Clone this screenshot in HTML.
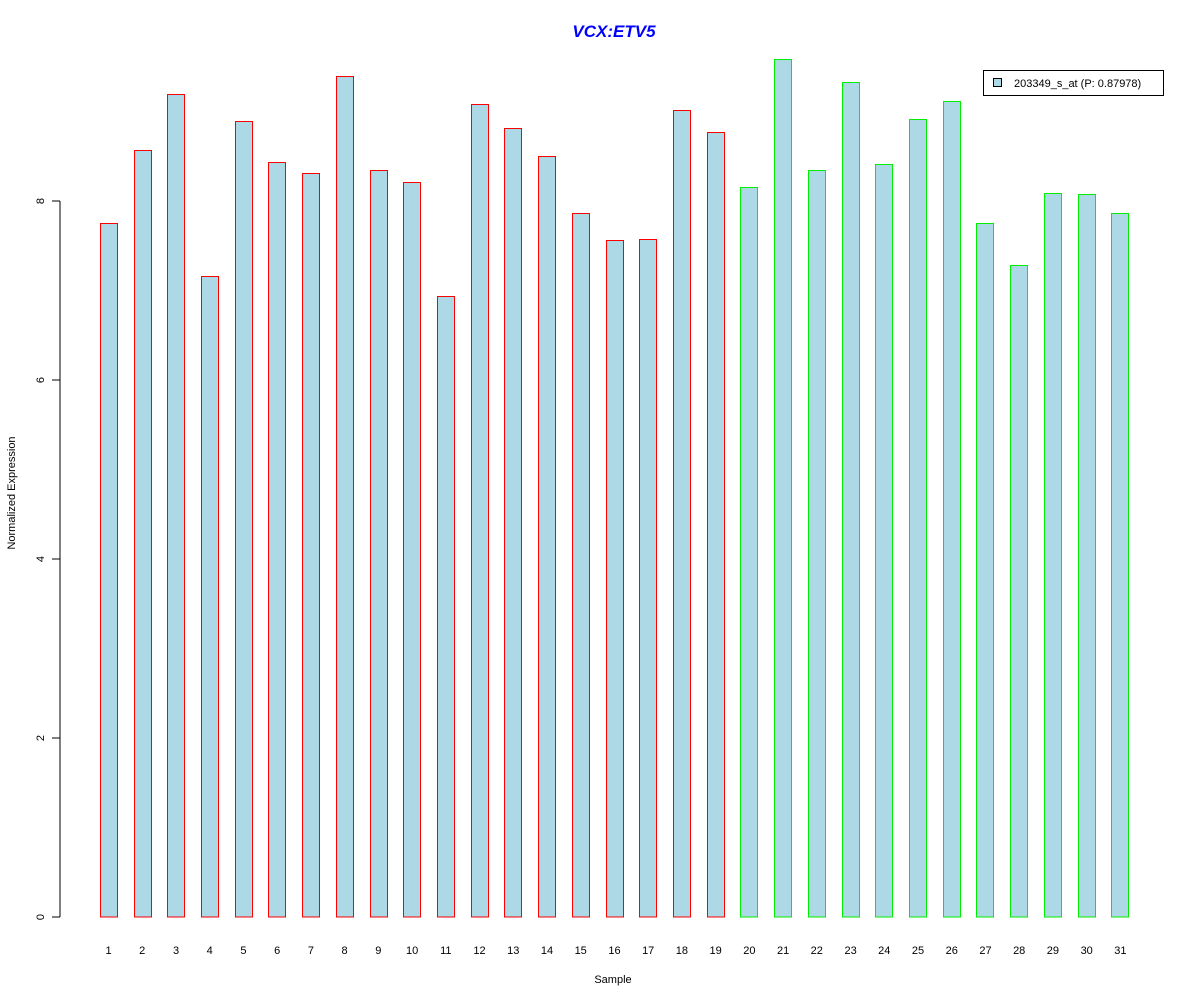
<!DOCTYPE html>
<html><head><style>body{margin:0;background:#fff}</style></head><body>
<svg width="1200" height="1000" xmlns="http://www.w3.org/2000/svg" font-family="Liberation Sans, Arial, sans-serif">
<rect width="1200" height="1000" fill="#fff"/>
<text x="614" y="37" text-anchor="middle" font-size="17" font-weight="bold" font-style="italic" fill="#0000ff">VCX:ETV5</text>
<g stroke="#000" stroke-width="1">
<line x1="60" y1="917" x2="60" y2="201"/>
<line x1="52" y1="917" x2="60" y2="917"/>
<line x1="52" y1="738" x2="60" y2="738"/>
<line x1="52" y1="559" x2="60" y2="559"/>
<line x1="52" y1="380" x2="60" y2="380"/>
<line x1="52" y1="201" x2="60" y2="201"/>
</g>
<g font-size="11" fill="#000" text-anchor="middle">
<text transform="translate(44,917) rotate(-90)">0</text>
<text transform="translate(44,738) rotate(-90)">2</text>
<text transform="translate(44,559) rotate(-90)">4</text>
<text transform="translate(44,380) rotate(-90)">6</text>
<text transform="translate(44,201) rotate(-90)">8</text>
<text transform="translate(15,493) rotate(-90)">Normalized Expression</text>
<text x="613" y="983">Sample</text>
</g>
<g fill="#add8e6" stroke="#ff0000">
<rect x="100.5" y="223.5" width="17" height="693.5"/>
<rect x="134.5" y="150.5" width="17" height="766.5"/>
<rect x="167.5" y="94.5" width="17" height="822.5"/>
<rect x="201.5" y="276.5" width="17" height="640.5"/>
<rect x="235.5" y="121.5" width="17" height="795.5"/>
<rect x="268.5" y="162.5" width="17" height="754.5"/>
<rect x="302.5" y="173.5" width="17" height="743.5"/>
<rect x="336.5" y="76.5" width="17" height="840.5"/>
<rect x="370.5" y="170.5" width="17" height="746.5"/>
<rect x="403.5" y="182.5" width="17" height="734.5"/>
<rect x="437.5" y="296.5" width="17" height="620.5"/>
<rect x="471.5" y="104.5" width="17" height="812.5"/>
<rect x="504.5" y="128.5" width="17" height="788.5"/>
<rect x="538.5" y="156.5" width="17" height="760.5"/>
<rect x="572.5" y="213.5" width="17" height="703.5"/>
<rect x="606.5" y="240.5" width="17" height="676.5"/>
<rect x="639.5" y="239.5" width="17" height="677.5"/>
<rect x="673.5" y="110.5" width="17" height="806.5"/>
<rect x="707.5" y="132.5" width="17" height="784.5"/>
</g>
<g fill="#add8e6" stroke="#00ee00">
<rect x="740.5" y="187.5" width="17" height="729.5"/>
<rect x="774.5" y="59.5" width="17" height="857.5"/>
<rect x="808.5" y="170.5" width="17" height="746.5"/>
<rect x="842.5" y="82.5" width="17" height="834.5"/>
<rect x="875.5" y="164.5" width="17" height="752.5"/>
<rect x="909.5" y="119.5" width="17" height="797.5"/>
<rect x="943.5" y="101.5" width="17" height="815.5"/>
<rect x="976.5" y="223.5" width="17" height="693.5"/>
<rect x="1010.5" y="265.5" width="17" height="651.5"/>
<rect x="1044.5" y="193.5" width="17" height="723.5"/>
<rect x="1078.5" y="194.5" width="17" height="722.5"/>
<rect x="1111.5" y="213.5" width="17" height="703.5"/>
</g>
<g font-size="11" text-anchor="middle" fill="#000">
<text x="108.5" y="954">1</text><text x="142.2" y="954">2</text><text x="176" y="954">3</text><text x="209.7" y="954">4</text><text x="243.4" y="954">5</text><text x="277.2" y="954">6</text><text x="310.9" y="954">7</text><text x="344.6" y="954">8</text><text x="378.3" y="954">9</text><text x="412.1" y="954">10</text><text x="445.8" y="954">11</text><text x="479.5" y="954">12</text><text x="513.3" y="954">13</text><text x="547" y="954">14</text><text x="580.7" y="954">15</text><text x="614.5" y="954">16</text><text x="648.2" y="954">17</text><text x="681.9" y="954">18</text><text x="715.6" y="954">19</text><text x="749.4" y="954">20</text><text x="783.1" y="954">21</text><text x="816.8" y="954">22</text><text x="850.6" y="954">23</text><text x="884.3" y="954">24</text><text x="918" y="954">25</text><text x="951.8" y="954">26</text><text x="985.5" y="954">27</text><text x="1019.2" y="954">28</text><text x="1052.9" y="954">29</text><text x="1086.7" y="954">30</text><text x="1120.4" y="954">31</text>
</g>
<rect x="983.5" y="70.5" width="180" height="25" fill="#fff" stroke="#000"/>
<rect x="993.5" y="78.5" width="8" height="8" fill="#add8e6" stroke="#000"/>
<text x="1014" y="87" font-size="11">203349_s_at (P: 0.87978)</text>
</svg>
</body></html>
